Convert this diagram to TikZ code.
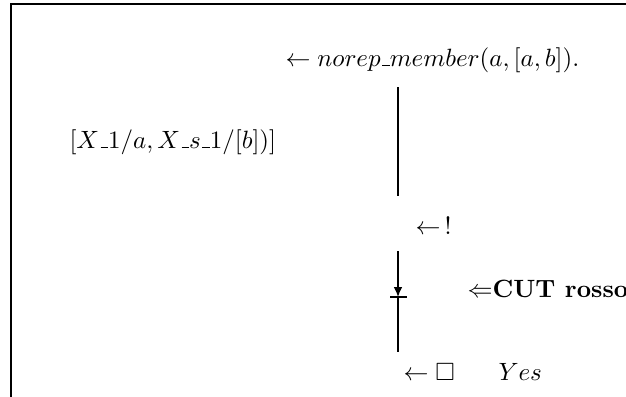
\documentclass[tikz,border=0pt]{standalone}
\usepackage{amssymb}
\usetikzlibrary{arrows.meta}
\newcommand{\us}{\mbox{\kern.06em\vbox{\hrule width.3em}}}
\begin{document}
\begin{tikzpicture}[x=0.4pt,y=-0.4pt,
  lbl/.style={inner sep=0pt,anchor=west},
  edge/.style={line width=0.55pt},
  frame/.style={line width=0.8pt}]
\useasboundingbox (0,0) rectangle (626,396);
\clip (0,0) rectangle (626,396);
\draw[frame] (11,400) -- (11,4) -- (630,4);
\node[lbl] (goal) at (285,60) {$\leftarrow norep\us member(a,[a,b]).$};
\node[lbl] (subst) at (69,142) {$[X\/\us1/a, X\/\us s\us1/[b])]$};
\node[lbl] (cut) at (415,226) {$\leftarrow\,!$};
\node[lbl] (red) at (467,289) {$\Leftarrow$\textbf{CUT rosso}};
\node[lbl] (empty) at (403,372) {$\leftarrow \square$};
\node[lbl] (yes) at (498,372) {$Yes$};
\coordinate (a1) at (398,87);
\coordinate (a2) at (398,196);
\coordinate (b1) at (398,251);
\coordinate (bm) at (398,297);
\coordinate (b2) at (398,352);
\draw[edge] (a1) -- (a2);
\draw[edge,-{Latex[length=4pt,width=3.5pt]}] (b1) -- (bm);
\draw[edge] (bm) -- (b2);
\draw[edge] ([xshift=-8*0.4pt]bm) -- ([xshift=9*0.4pt]bm);
\end{tikzpicture}
\end{document}
